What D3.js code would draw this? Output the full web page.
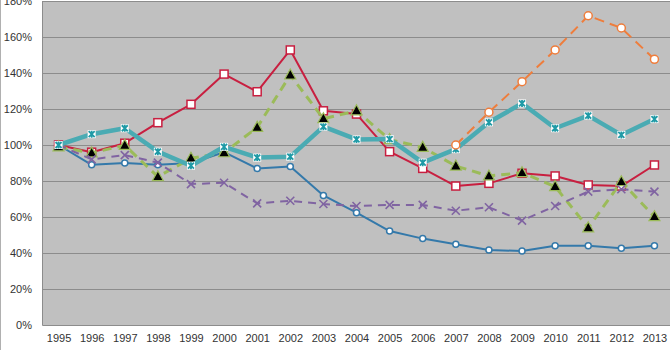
<!DOCTYPE html>
<html><head><meta charset="utf-8">
<script src="https://cdn.jsdelivr.net/npm/d3@7"></script>
<style>body{margin:0;background:#fff}svg{display:block;font-family:"Liberation Sans",Arial,sans-serif}</style>
</head><body><svg id="c" width="670" height="350"></svg>
<script>
const years = ["1995","1996","1997","1998","1999","2000","2001","2002","2003","2004","2005","2006","2007","2008","2009","2010","2011","2012","2013"];
const blueVals   = [100,89,90,89,90,96,87,88,72,62.4,52.2,48,44.8,41.7,41.1,44,44,42.6,44];
const redVals    = [100,96,101,112.4,122.6,139.4,129.6,152.8,119,117.2,96.3,87,77.2,78.7,84.3,82.8,77.8,77.2,88.9];
const greenVals  = [99,95.6,99.8,82.4,92.6,95.7,109.8,138.9,114.6,119,103,98.7,88.3,82.8,84.6,76.9,54,79.6,60.2];
const purpleVals = [100,92,94.4,90.2,78.3,79,67.6,69,67.2,66.1,66.7,66.7,63.5,65.4,58,66.1,74.1,75.4,74.1];
const cyanVals   = [100,106,109.3,96.3,88.5,99,93,93.5,110.2,103.1,103.3,90.2,97.7,112.6,123.1,109.3,116.3,105.6,114.4];
const orangeVals = [null,null,null,null,null,null,null,null,null,null,null,null,100,118.2,135.2,152.8,171.8,165,147.6];
const yTicks = [0,20,40,60,80,100,120,140,160,180];

const svg = d3.select("#c");
const L = 42, R = 671, T = 1, B = 325;
const x = d3.scalePoint().domain(years).range([L, R]).padding(0.5);
const y = d3.scaleLinear().domain([0, 180]).range([B, T]);

svg.append("rect").attr("x",0.5).attr("y",-1).attr("width",680).attr("height",360)
  .attr("fill","none").attr("stroke","#b0b0b0");
svg.append("rect").attr("x",L).attr("y",T).attr("width",R-L).attr("height",B-T).attr("fill","#c0c0c0");
svg.append("g").selectAll("line").data(yTicks.filter(d=>d>0)).join("line")
  .attr("x1",L).attr("x2",R).attr("y1",d=>Math.round(y(d))+0.5).attr("y2",d=>Math.round(y(d))+0.5)
  .attr("stroke","#8c8c8c").attr("stroke-width",1);

const yAxis = d3.axisLeft(y).tickValues(yTicks).tickSize(0).tickPadding(10).tickFormat(d=>d+"%");
const gy = svg.append("g").attr("transform",`translate(${L},0)`).call(yAxis);
gy.select(".domain").attr("stroke","#8c8c8c");
gy.selectAll("text").attr("font-size",11).attr("fill","#333").attr("font-family","Liberation Sans, Arial, sans-serif");
const xAxis = d3.axisBottom(x).tickSize(0).tickPadding(9);
const gx = svg.append("g").attr("transform",`translate(0,${B})`).call(xAxis);
gx.select(".domain").attr("stroke","#8c8c8c");
gx.selectAll("text").attr("font-size",11).attr("fill","#333").attr("font-family","Liberation Sans, Arial, sans-serif");

function series(vals, color, width, dash) {
  const pts = years.map((yr,i)=>({yr, v:vals[i]})).filter(d=>d.v!=null);
  const line = d3.line().x(d=>x(d.yr)).y(d=>y(d.v));
  svg.append("path").datum(pts).attr("d",line).attr("fill","none")
    .attr("stroke",color).attr("stroke-width",width).attr("stroke-dasharray",dash||null)
    .attr("stroke-linejoin","round");
  return svg.append("g").selectAll("g").data(pts).join("g")
    .attr("transform",d=>`translate(${x(d.yr)},${y(d.v)})`);
}

const bc = "#3479aa";
series(blueVals, bc, 2).append("circle").attr("r",3).attr("fill","#fff").attr("stroke",bc).attr("stroke-width",1.5);
const rc = "#c81f40";
series(redVals, rc, 2).append("rect").attr("x",-4).attr("y",-4).attr("width",8).attr("height",8)
  .attr("fill","#fff").attr("stroke",rc).attr("stroke-width",1.5);
const gc = "#9bbb59";
series(greenVals, gc, 3, "9,6").append("path").attr("d","M0,-6L5.5,4L-5.5,4Z")
  .attr("fill","#000").attr("stroke",gc).attr("stroke-width",1.2);
const pc = "#8064a2";
series(purpleVals, pc, 2, "8,6").append("path").attr("d","M-4,-4L4,4M-4,4L4,-4")
  .attr("stroke",pc).attr("stroke-width",1.6).attr("fill","none");
const cc = "#4aabb3";
const cm = series(cyanVals, cc, 4.5);
cm.append("rect").attr("x",-4).attr("y",-4).attr("width",8).attr("height",8).attr("fill","#fff");
cm.append("path").attr("d","M-3,-3L3,3M-3,3L3,-3M0,-3.5L0,3.5").attr("stroke","#1f9aa6").attr("stroke-width",1.8);
const oc = "#ee7d3c";
series(orangeVals, oc, 2, "10,6").append("circle").attr("r",4).attr("fill","#fff").attr("stroke",oc).attr("stroke-width",1.5);
</script></body></html>
